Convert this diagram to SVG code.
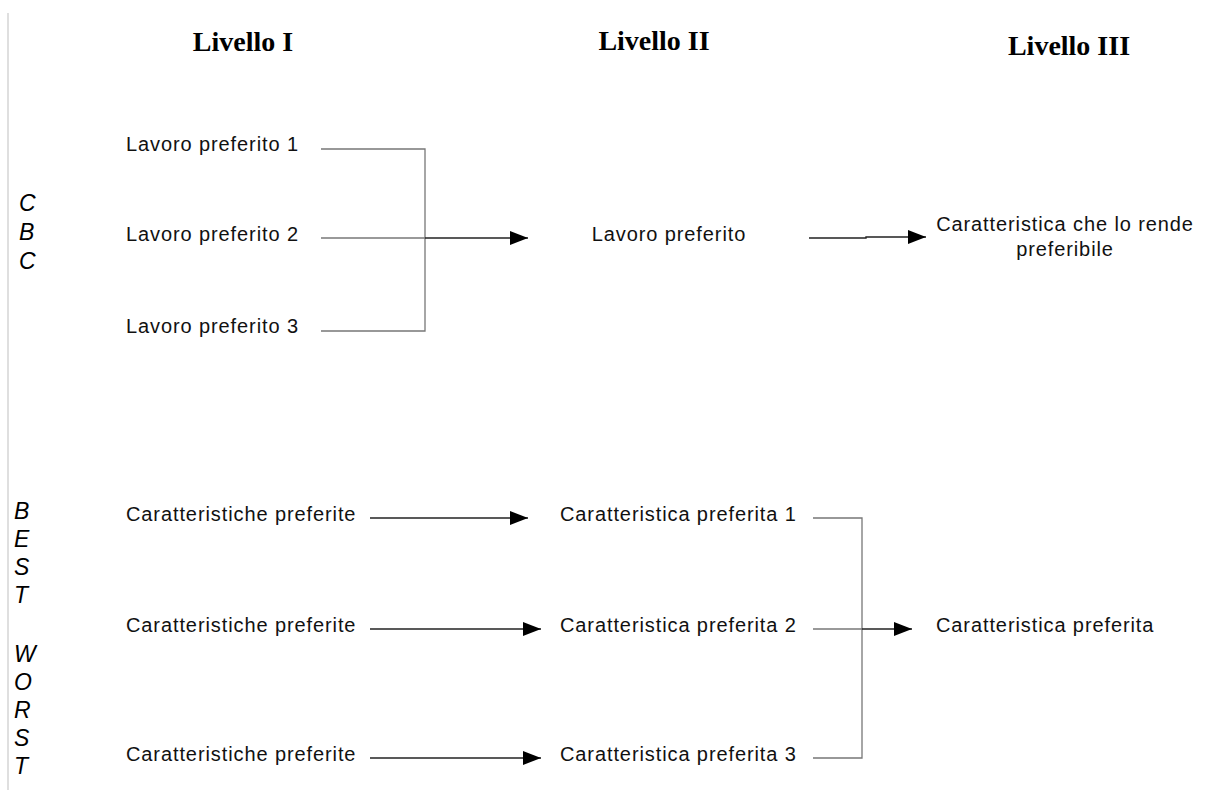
<svg xmlns="http://www.w3.org/2000/svg" width="1208" height="790" viewBox="0 0 1208 790">
<style>
.h{font-family:"Liberation Serif",serif;font-weight:bold;font-size:28px;fill:#000;text-anchor:middle}
.t{font-family:"Liberation Sans",Arial,sans-serif;font-size:20px;letter-spacing:0.9px;fill:#111}
.s{font-family:"Liberation Sans",Arial,sans-serif;font-size:23px;font-style:italic;fill:#000}
.g{stroke:#777;stroke-width:1.3;fill:none}
.a{stroke:#222;stroke-width:1.4;fill:none}
</style>
<defs>
<marker id="ah" markerWidth="20" markerHeight="16" refX="18" refY="7" orient="auto" markerUnits="userSpaceOnUse">
<path d="M0,0 L18,7 L0,14 Z" fill="#000"/>
</marker>
</defs>
<rect width="1208" height="790" fill="#fff"/>
<line x1="8" y1="13" x2="8" y2="790" stroke="#d4d4d4" stroke-width="1.5"/>
<g id="headers">
<text class="h" x="243" y="51">Livello I</text>
<text class="h" x="654" y="50">Livello II</text>
<text class="h" x="1069" y="55">Livello III</text>
</g>
<g id="side-labels">
<text class="s" x="19" y="211">C</text>
<text class="s" x="19" y="240">B</text>
<text class="s" x="19" y="269">C</text>
<text class="s" x="14" y="519">B</text>
<text class="s" x="14" y="547">E</text>
<text class="s" x="14" y="575">S</text>
<text class="s" x="14" y="603">T</text>
<text class="s" x="14" y="662">W</text>
<text class="s" x="14" y="690">O</text>
<text class="s" x="14" y="718">R</text>
<text class="s" x="14" y="746">S</text>
<text class="s" x="14" y="774">T</text>
</g>
<g id="connectors">
<path class="g" d="M321,149 H425 V331 H321"/>
<line class="g" x1="321" y1="238" x2="425" y2="238"/>
<line class="a" x1="425" y1="238" x2="528" y2="238" marker-end="url(#ah)"/>
<path class="a" d="M809,238 H866 V237 H926" marker-end="url(#ah)"/>
<line class="a" x1="370" y1="518" x2="528" y2="518" marker-end="url(#ah)"/>
<line class="a" x1="370" y1="629" x2="541" y2="629" marker-end="url(#ah)"/>
<line class="a" x1="370" y1="758" x2="541" y2="758" marker-end="url(#ah)"/>
<path class="g" d="M813,518 H862 V758 H813"/>
<line class="g" x1="813" y1="629" x2="862" y2="629"/>
<line class="a" x1="862" y1="629" x2="912" y2="629" marker-end="url(#ah)"/>
</g>
<g id="n-lp1"><text class="t" x="126" y="151">Lavoro preferito 1</text></g>
<g id="n-lp2"><text class="t" x="126" y="241">Lavoro preferito 2</text></g>
<g id="n-lp3"><text class="t" x="126" y="333">Lavoro preferito 3</text></g>
<g id="n-lp"><text class="t" x="669" y="241" text-anchor="middle">Lavoro preferito</text></g>
<g id="n-car"><text class="t" x="1065" y="231" text-anchor="middle">Caratteristica che lo rende</text><text class="t" x="1065" y="256" text-anchor="middle">preferibile</text></g>
<g id="n-cp-a"><text class="t" x="126" y="521">Caratteristiche preferite</text></g>
<g id="n-cp-b"><text class="t" x="126" y="632">Caratteristiche preferite</text></g>
<g id="n-cp-c"><text class="t" x="126" y="761">Caratteristiche preferite</text></g>
<g id="n-c1"><text class="t" x="560" y="521">Caratteristica preferita 1</text></g>
<g id="n-c2"><text class="t" x="560" y="632">Caratteristica preferita 2</text></g>
<g id="n-c3"><text class="t" x="560" y="761">Caratteristica preferita 3</text></g>
<g id="n-cf"><text class="t" x="936" y="632">Caratteristica preferita</text></g>
</svg>
